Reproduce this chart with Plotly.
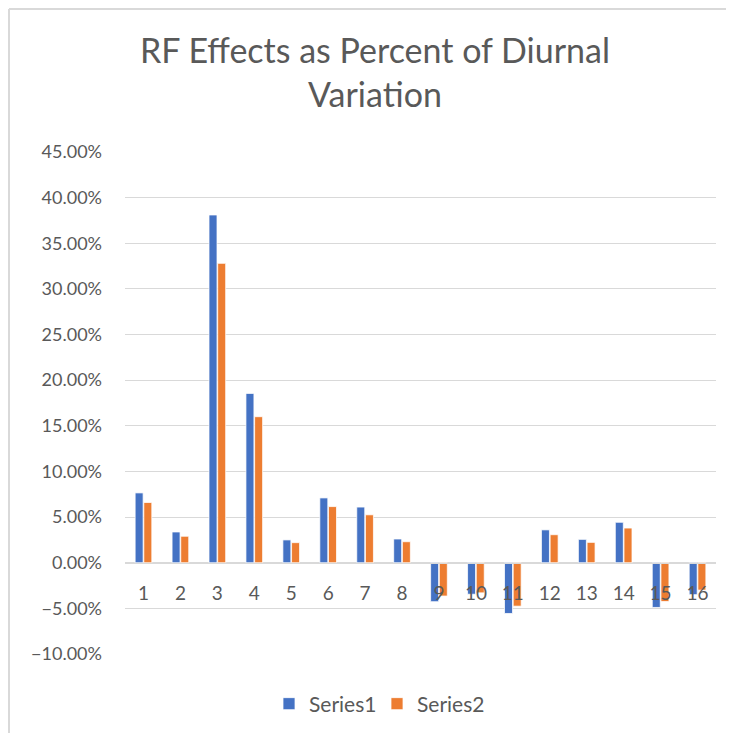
import plotly.graph_objects as go

categories = [str(i) for i in range(1, 17)]
series1 = [0.0765, 0.0337, 0.381, 0.1855, 0.025, 0.071, 0.061, 0.026,
           -0.0427, -0.0345, -0.0556, 0.036, 0.0256, 0.0443, -0.049, -0.035]
series2 = [0.066, 0.029, 0.328, 0.160, 0.022, 0.0615, 0.0525, 0.023,
           -0.0365, -0.033, -0.0476, 0.0307, 0.0223, 0.038, -0.0425, -0.030]
series_names = ["Series1", "Series2"]
title_text = "RF Effects as Percent of Diurnal<br>Variation"

BLUE = "#4472C4"
ORANGE = "#ED7D31"
GRAY = "#595959"
GRID = "#d9d9d9"
FONT = "Lato"

# page body has an 8px default margin; figure sized to fit the window
W, H = 726, 725
L, R, T, B = 117, 18, 144, 79
ymin, ymax = -0.10, 0.45

fig = go.Figure()
fig.add_trace(go.Bar(x=categories, y=series1, name=series_names[0],
                     marker=dict(color=BLUE, line=dict(color="white", width=0.75))))
fig.add_trace(go.Bar(x=categories, y=series2, name=series_names[1],
                     marker=dict(color=ORANGE, line=dict(color="white", width=0.75))))

pw = W - L - R
ph = H - T - B


def px_x(px):
    return (px - L) / pw


def px_y(py):
    return (H - B - py) / ph


fig.update_layout(
    width=W, height=H,
    margin=dict(l=L, r=R, t=T, b=B, autoexpand=False),
    paper_bgcolor="white", plot_bgcolor="white",
    font=dict(family=FONT, color=GRAY, size=18),
    title=dict(text=title_text, font=dict(family=FONT, size=34, color=GRAY),
               xref="container", x=367 / W, xanchor="center",
               yref="container", y=1 - 55 / H, yanchor="top"),
    barmode="group", bargap=0.53, bargroupgap=0.08,
    showlegend=True,
    legend=dict(orientation="h", xref="container", x=369 / W, xanchor="center",
                yref="container", y=1 - 696 / H, yanchor="middle",
                font=dict(size=21, color=GRAY, family=FONT),
                itemwidth=30, entrywidth=63, traceorder="normal"),
    xaxis=dict(type="category", anchor="free", position=(0 - ymin) / (ymax - ymin),
               showline=True, linecolor=GRID, linewidth=1, showgrid=False,
               ticks="", ticklabelstandoff=13,
               tickfont=dict(size=19, color=GRAY, family=FONT)),
    yaxis=dict(range=[ymin, ymax], dtick=0.05, tick0=0, tickformat=".2%",
               showgrid=True, gridcolor=GRID, gridwidth=1, zeroline=False,
               showline=False, ticks="", ticklabelstandoff=22,
               tickfont=dict(size=18, color=GRAY, family=FONT)),
    shapes=[
        dict(type="line", xref="paper", yref="paper",
             x0=px_x(1), x1=px_x(1), y0=px_y(1), y1=px_y(H + 5),
             line=dict(color=GRID, width=2)),
        dict(type="line", xref="paper", yref="paper",
             x0=px_x(1), x1=px_x(W + 5), y0=px_y(1), y1=px_y(1),
             line=dict(color=GRID, width=2)),
    ],
)

fig.write_html("out.html")
